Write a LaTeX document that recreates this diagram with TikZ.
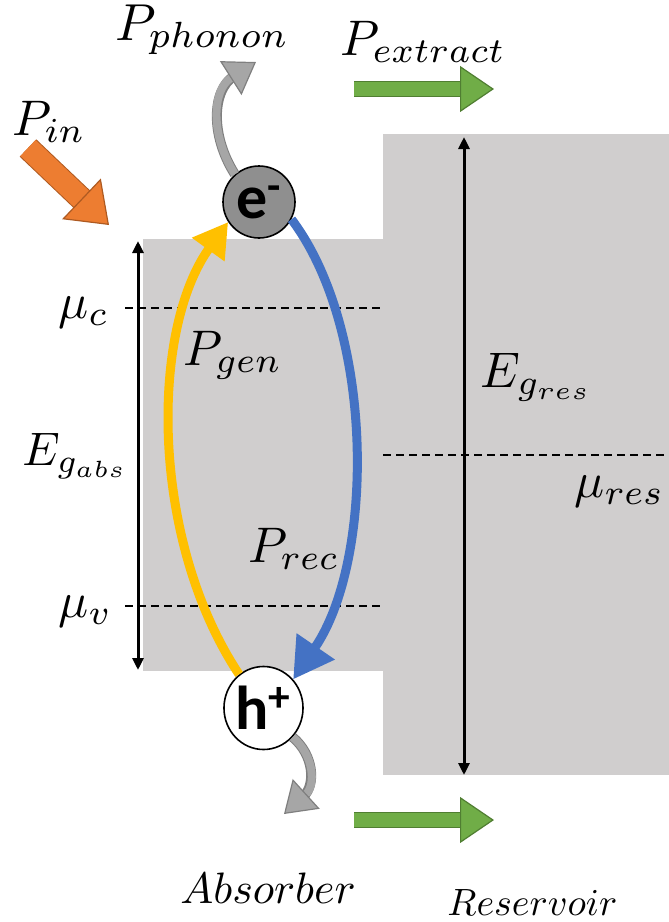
\documentclass[tikz,border=0pt]{standalone}
\usepackage{graphicx}
\usepackage{fontspec}
\newfontfamily\chargefont{Carlito}
\usetikzlibrary{arrows.meta,shapes.geometric}
\definecolor{boxgray}{HTML}{D0CECE}
\definecolor{genyellow}{HTML}{FFC000}
\definecolor{recblue}{HTML}{4472C4}
\definecolor{phonongray}{HTML}{A6A6A6}
\definecolor{phononedge}{HTML}{7F7F7F}
\definecolor{extractgreen}{HTML}{70AD47}
\definecolor{extractedge}{HTML}{507E32}
\definecolor{inorange}{HTML}{ED7D31}
\definecolor{inedge}{HTML}{AE5A21}
\definecolor{elecgray}{HTML}{8F8F8F}
\newcommand{\eqlabel}[2][2.5]{\scalebox{#1}{$#2$}}

\tikzset{
  lbl/.style={inner sep=0pt, anchor=base west},
  level/.style={dash pattern=on 4pt off 2.5pt, line width=1.4pt},
  gaparrow/.style={line width=1.5pt, {Triangle[length=6pt,width=5.5pt]}-{Triangle[length=6pt,width=5.5pt]}},
  carrier/.style={draw, line width=0.8pt, inner sep=0pt, font=\chargefont\bfseries\fontsize{31}{33}\selectfont},
  greenarrow/.style={line width=7pt, draw=extractgreen,
    preaction={draw=extractedge, line width=8pt, -, shorten >=14pt},
    -{Triangle[width=23pt,length=17pt,fill=extractgreen,color=extractedge,line width=0.6pt]}},
  orangearrow/.style={line width=11pt, draw=inorange,
    preaction={draw=inedge, line width=12pt, -, shorten >=16pt},
    -{Triangle[width=28pt,length=19pt,fill=inorange,color=inedge,line width=0.6pt]}},
  phononarrow/.style={line width=4pt, draw=phonongray,
    preaction={draw=phononedge, line width=5pt, -, shorten >=13pt},
    -{Triangle[width=20pt,length=15pt,fill=phonongray,color=phononedge,line width=0.6pt]}},
  genarrow/.style={line width=4.5pt, draw=genyellow, -{Triangle[width=19pt,length=17pt]}},
  recarrow/.style={line width=4.5pt, draw=recblue, -{Triangle[width=22pt,length=20pt]}}
}

\begin{document}
\begin{tikzpicture}[x=0.5pt,y=-0.5pt]
  \useasboundingbox (0,0) rectangle (669,922);
  % blocks
  \fill[boxgray] (143,239) rectangle (383,671);
  \fill[boxgray] (383,134) rectangle (669,775);
  % levels
  \draw[level] (125,308) -- (383,308);
  \draw[level] (125,606) -- (383,606);
  \draw[level] (383,455) -- (669,455);
  % band gaps
  \coordinate (abstop) at (138,241);
  \coordinate (absbot) at (138,670);
  \coordinate (restop) at (464,137);
  \coordinate (resbot) at (464,775);
  \draw[gaparrow] (abstop) -- (absbot);
  \draw[gaparrow] (restop) -- (resbot);
  % carriers
  \node[carrier, circle, fill=elecgray, minimum size=36pt] (elec) at (259,202) {e\textsuperscript{-}};
  \node[carrier, ellipse, fill=white, minimum width=38pt, minimum height=41.5pt] (hole) at (263.5,708) {h\textsuperscript{+}};
  % generation / recombination
  \draw[genarrow] (hole.126) .. controls (150,540) and (150,330) .. (elec.213);
  \draw[recarrow] (elec.-28) .. controls (375,330) and (375,560) .. (hole.44);
  % phonons
  \coordinate (phtop) at (256,62);
  \coordinate (phbot) at (284,814);
  \draw[phononarrow] (elec.131) .. controls (210,135) and (212,90) .. (phtop);
  \draw[phononarrow] (hole.-45) .. controls (314,755) and (316,785) .. (phbot);
  % power in / out
  \coordinate (intail) at (28,148);
  \coordinate (inhead) at (109,225);
  \draw[orangearrow] (intail) -- (inhead);
  \coordinate (extail1) at (354,89);
  \coordinate (exhead1) at (494,89);
  \coordinate (extail2) at (354,820);
  \coordinate (exhead2) at (494,820);
  \draw[greenarrow] (extail1) -- (exhead1);
  \draw[greenarrow] (extail2) -- (exhead2);
  % labels
  \node[lbl] (pphonon) at (115,40) {\eqlabel[2.6]{P_{phonon}}};
  \node[lbl] (pextract) at (340,55) {\eqlabel{P_{extract}}};
  \node[lbl] (pin) at (12,135) {\eqlabel{P_{in}}};
  \node[lbl] (muc) at (58,318) {\eqlabel{\mu_c}};
  \node[lbl] (egabs) at (22,465) {\eqlabel[2.35]{E_{g_{abs}}}};
  \node[lbl] (muv) at (58,617) {\eqlabel{\mu_v}};
  \node[lbl] (pgen) at (183,365) {\eqlabel{P_{gen}}};
  \node[lbl] (prec) at (248,562) {\eqlabel{P_{rec}}};
  \node[lbl] (egres) at (480,387) {\eqlabel{E_{g_{res}}}};
  \node[lbl] (mures) at (574,497) {\eqlabel{\mu_{res}}};
  \node[lbl] (absorber) at (180,903) {\eqlabel[2.2]{Absorber}};
  \node[lbl] (reservoir) at (447,915) {\eqlabel[1.9]{Reservoir}};
\end{tikzpicture}
\end{document}
